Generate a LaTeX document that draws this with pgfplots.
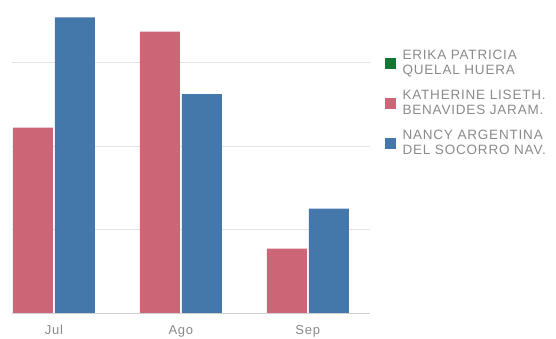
\documentclass[border=0pt]{standalone}
\usepackage{pgfplots}
\pgfplotsset{compat=1.18}
\usepackage{fontspec}
\setmainfont{Liberation Sans}
\newfontfamily\legfont[LetterSpace=6]{Liberation Sans}
\definecolor{tolgreen}{HTML}{117733}
\definecolor{tolrose}{HTML}{CC6677}
\definecolor{tolblue}{HTML}{4477AA}
\definecolor{txtgray}{HTML}{8A8A8A}
\definecolor{gridgray}{HTML}{E3E3E3}
\pgfplotsset{sqlegend/.style={legend image code/.code={\fill[##1,draw=none] (0pt,-5.5pt) rectangle (11pt,5.5pt);}}}
\begin{document}
\begin{tikzpicture}
\path[use as bounding box] (0,0) rectangle (556pt,339pt);
\begin{axis}[
  at={(12pt,26pt)}, anchor=south west,
  scale only axis, width=358pt, height=309pt,
  xmin=-0.33, xmax=2.49, ymin=0, ymax=3.7,
  ybar, bar width=40pt,
  xtick=data, xticklabels={Jul,Ago,Sep},
  ytick={1,2,3}, yticklabels={},
  ymajorgrids, grid style={gridgray, line width=0.8pt},
  axis x line*=bottom, axis y line*=left,
  x axis line style={draw=gridgray!80!gray, line width=0.8pt},
  y axis line style={draw=none},
  major tick length=0pt,
  tick label style={text=txtgray, font=\legfont\fontsize{13}{15}\selectfont},
  xticklabel style={yshift=-9pt},
  legend style={draw=none, fill=none, at={(1.033,0.863)}, anchor=north west,
    font=\legfont\fontsize{13.5}{15}\selectfont, row sep=10pt,
    nodes={align=left, text=txtgray, inner xsep=6.5pt}},
  legend cell align=left,
]
\addlegendimage{fill=tolgreen, sqlegend}
\addplot[fill=tolrose, draw=none, bar shift=-21pt, sqlegend] coordinates {(0,2.22) (1,3.37) (2,0.77)};
\addplot[fill=tolblue, draw=none, bar shift=21pt, sqlegend] coordinates {(0,3.54) (1,2.62) (2,1.25)};
\legend{ERIKA PATRICIA\\QUELAL HUERA, KATHERINE LISETH.\\BENAVIDES JARAM., NANCY ARGENTINA\\DEL SOCORRO NAV.}
\end{axis}
\end{tikzpicture}
\end{document}
